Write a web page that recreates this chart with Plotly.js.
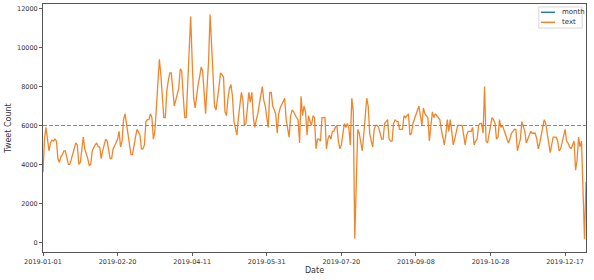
<!DOCTYPE html>
<html>
<head>
<meta charset="utf-8">
<script src="https://cdn.plot.ly/plotly-3.0.1.min.js"></script>
<style>html,body{margin:0;padding:0;background:#fff;}#chart{width:594px;height:280px;}</style>
</head>
<body>
<div id="chart"></div>
<script>
// Daily tweet counts, 2019-01-01 .. 2019-12-31
const startDate = '2019-01-01';
const tweetCounts = [
  3600, 5300, 5900, 5300, 4700, 5100, 5250, 5200, 5300, 5200,
  4300, 4100, 4400, 4500, 4700, 4700, 4300, 4000, 4000, 4300,
  4500, 4800, 5100, 5000, 4000, 4100, 4900, 5400, 4800, 4600,
  4300, 3950, 4000, 4700, 4900, 5000, 5100, 4900, 4900, 4300,
  4700, 5100, 5300, 5200, 4800, 4300, 4300, 4800, 4950, 5100,
  5300, 5700, 4900, 5200, 6300, 6600, 6100, 5700, 5000, 4500,
  4500, 5100, 5400, 5800, 5600, 5500, 4800, 4800, 5000, 6200,
  6300, 6300, 6600, 6400, 5300, 5700, 6900, 8000, 9400, 8600,
  7500, 6400, 6400, 7800, 8300, 8700, 8700, 7700, 7000, 7300,
  7600, 7900, 8900, 8800, 7500, 6400, 6400, 8000, 9800, 11600,
  9300, 7400, 6900, 7700, 8100, 8500, 9000, 8800, 7600, 6600,
  8000, 9300, 11700, 10000, 9000, 7000, 6800, 7600, 8000, 8700,
  8600, 8500, 6700, 6500, 7400, 7900, 8100, 7500, 6200, 5900,
  5500, 6400, 7100, 7700, 7300, 6000, 6100, 7000, 7700, 7200,
  7700, 6400, 5900, 6300, 6600, 7100, 7500, 8000, 7300, 7000,
  6400, 5900, 7700, 7700, 7000, 6800, 6600, 5600, 6600, 6900,
  7100, 7300, 7400, 6300, 5700, 5400, 6500, 6800, 6700, 6500,
  6400, 6300, 5100, 7500, 6500, 7000, 6700, 5500, 6500, 6200,
  6000, 6500, 6400, 4800, 5300, 5300, 5200, 6400, 6400, 6400,
  4800, 5300, 5500, 5300, 5700, 5700, 5900, 6000, 5200, 4800,
  5000, 5600, 6100, 5900, 6100, 5900, 5000, 7400, 6700, 200,
  3000, 5800, 5600, 5000, 4700, 5500, 6500, 7400, 7000, 5600,
  5200, 4900, 5800, 6000, 6000, 5900, 5600, 5300, 5300, 6100,
  6200, 6300, 5300, 5200, 5200, 6100, 6300, 6200, 6200, 5800,
  5800, 5800, 6500, 6400, 6500, 6600, 5500, 5600, 6100, 6300,
  6500, 6700, 7000, 6500, 6000, 6900, 6600, 6500, 6400, 5200,
  6000, 6700, 6400, 6600, 6500, 6400, 6300, 5800, 5300, 5000,
  5500, 6300, 5700, 6300, 5700, 5000, 5300, 5600, 6000, 6000,
  6000, 6000, 5500, 5000, 5500, 5700, 5700, 5700, 5900, 5000,
  5200, 5300, 6000, 6100, 6100, 5600, 8000, 5200, 5100, 5600,
  6000, 6400, 6300, 6100, 5300, 5400, 6300, 5900, 6000, 5800,
  5500, 5300, 5100, 5300, 5600, 5700, 5800, 5800, 4700, 5000,
  5300, 6200, 5900, 5700, 5100, 5300, 5600, 5700, 5600, 5600,
  5600, 5300, 4800, 5100, 5500, 5700, 6300, 6100, 5500, 4900,
  4600, 5000, 5400, 5400, 5400, 5200, 4700, 4800, 5100, 5500,
  5800, 5200, 5100, 4900, 4800, 5000, 5200, 3700, 4200, 5400,
  4900, 5200, 2500, 150, 3100
];
const meanLine = 6000;
const xTickLabels = ['2019-01-01','2019-02-20','2019-04-11','2019-05-31','2019-07-20','2019-09-08','2019-10-28','2019-12-17'];
const yTicks = [0, 2000, 4000, 6000, 8000, 10000, 12000];
const seriesNames = ['month', 'text'];
const seriesColors = ['#2a7ab0', '#f0862c'];

// one date per day from the start date
const dates = tweetCounts.map((_, i) => {
  const d = new Date(Date.UTC(2019, 0, 1 + i));
  return d.toISOString().slice(0, 10);
});

const traces = [
  {x: [], y: [], type: 'scatter', mode: 'lines', name: seriesNames[0],
   line: {color: seriesColors[0], width: 1.5}},
  {x: dates, y: tweetCounts, type: 'scatter', mode: 'lines', name: seriesNames[1],
   line: {color: seriesColors[1], width: 1.3}}
];

const fontFam = 'DejaVu Sans, sans-serif';

// matplotlib-style legend box (upper right)
const legX0 = 0.913, legX1 = 0.993, legY0 = 0.903, legY1 = 0.988;
const legRows = [0.9665, 0.926];
const legendShapes = [{
  type: 'rect', xref: 'paper', yref: 'paper', x0: legX0, x1: legX1, y0: legY0, y1: legY1,
  line: {color: '#d8d8d8', width: 1}, fillcolor: 'rgba(255,255,255,0.85)', layer: 'above'
}];
const legendAnnots = [];
seriesNames.forEach((nm, i) => {
  legendShapes.push({type: 'line', xref: 'paper', yref: 'paper', x0: 0.917, x1: 0.943,
    y0: legRows[i], y1: legRows[i], line: {color: seriesColors[i], width: 1.5}, layer: 'above'});
  legendAnnots.push({xref: 'paper', yref: 'paper', x: 0.953, y: legRows[i], text: nm,
    showarrow: false, xanchor: 'left', yanchor: 'middle',
    font: {family: fontFam, size: 7, color: '#333'}});
});

const layout = {
  width: 594, height: 280,
  margin: {l: 43, r: 8, t: 4, b: 28},
  paper_bgcolor: '#fff', plot_bgcolor: '#fff',
  font: {family: fontFam, size: 6.5, color: '#333'},
  showlegend: false,
  xaxis: {
    type: 'date',
    range: [dates[0], dates[dates.length - 1]],
    tickmode: 'array', tickvals: xTickLabels, ticktext: xTickLabels,
    ticks: 'outside', ticklen: 3, tickwidth: 0.8, tickcolor: '#333',
    showgrid: false, zeroline: false,
    showline: true, mirror: true, linecolor: '#555', linewidth: 1,
    tickfont: {family: fontFam, size: 6.5, color: '#333'},
    title: {text: 'Date', font: {family: fontFam, size: 8, color: '#333'}, standoff: 1}
  },
  yaxis: {
    range: [-500, 12240],
    tickmode: 'array', tickvals: yTicks, ticktext: yTicks.map(String),
    ticks: 'outside', ticklen: 3, tickwidth: 0.8, tickcolor: '#333',
    showgrid: false, zeroline: false,
    showline: true, mirror: true, linecolor: '#555', linewidth: 1,
    tickfont: {family: fontFam, size: 6.5, color: '#333'},
    title: {text: 'Tweet Count', font: {family: fontFam, size: 8, color: '#333'}, standoff: 4}
  },
  shapes: [{
    type: 'line', xref: 'paper', x0: 0, x1: 1, yref: 'y', y0: meanLine, y1: meanLine,
    line: {color: '#8a8a8a', width: 1.1, dash: '4px,2px'}
  }].concat(legendShapes),
  annotations: legendAnnots
};

Plotly.newPlot('chart', traces, layout, {staticPlot: true, displayModeBar: false});
</script>
</body>
</html>
